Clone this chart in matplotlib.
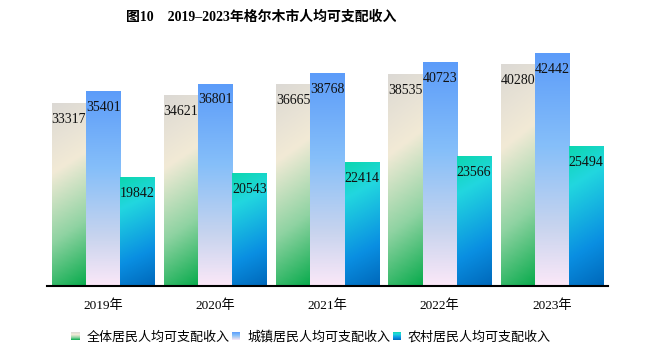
import numpy as np
import matplotlib.pyplot as plt
from matplotlib.colors import LinearSegmentedColormap
from matplotlib.legend_handler import HandlerBase
from matplotlib.patches import Rectangle

years = ["2019年", "2020年", "2021年", "2022年", "2023年"]
overall = [33317, 34621, 36665, 38535, 40280]
urban = [35401, 36801, 38768, 40723, 42442]
rural = [19842, 20543, 22414, 23566, 25494]
series_names = ["全体居民人均可支配收入", "城镇居民人均可支配收入", "农村居民人均可支配收入"]
title = "图10    2019–2023年格尔木市人均可支配收入"

# colour stops top -> bottom, and how much the gradient leans to the right
GRADIENTS = [
    ([(0, "#dcd9d4"), (0.34, "#f2ead6"), (0.68, "#8fd3a2"), (1, "#08ab4c")], 0.12),
    ([(0, "#5c9cfa"), (0.4, "#86bff9"), (0.75, "#c8d4ee"), (1, "#fbe8f8")], 0.0),
    ([(0, "#0cd6b0"), (0.25, "#22d7df"), (0.7, "#0a8fe2"), (1, "#0068ba")], 0.15),
]
CMAPS = [LinearSegmentedColormap.from_list(f"g{i}", stops) for i, (stops, _) in enumerate(GRADIENTS)]

SERIF = ["Liberation Serif", "Noto Sans CJK SC"]
SANS = ["Noto Sans CJK SC", "DejaVu Sans"]


def gradient_fill(ax, rect, cmap, tilt):
    x0, w, h = rect.get_x(), rect.get_width(), rect.get_height()
    v = np.linspace(0, 1, 200)[:, None]
    u = np.linspace(0, 1, 30)[None, :]
    t = (v + tilt * u) / (1 + tilt)
    ax.imshow(t, cmap=cmap, vmin=0, vmax=1, extent=(x0, x0 + w, 0, h),
              origin="upper", aspect="auto", interpolation="bilinear", zorder=2)


class GradientHandler(HandlerBase):
    def __init__(self, cmap, tilt):
        super().__init__()
        self.cmap, self.tilt = cmap, tilt

    def create_artists(self, legend, orig_handle, xdescent, ydescent, width, height,
                       fontsize, trans):
        n = 8
        arts = []
        for i in range(n):
            c = self.cmap((i + 0.5) / n)
            arts.append(Rectangle((-xdescent, -ydescent + height * (1 - (i + 1) / n)),
                                  width, height / n, facecolor=c, edgecolor="none",
                                  transform=trans))
        return arts


fig = plt.figure(figsize=(6.53, 3.59), dpi=100)
ax = fig.add_axes([0.072, 0.2033, 0.859, 0.688])

x = np.arange(len(years))
width = 0.305
handles = []
for i, vals in enumerate([overall, urban, rural]):
    bars = ax.bar(x + (i - 1) * width, vals, width, color="none", edgecolor="none")
    handles.append(bars)
    for rect, v in zip(bars, vals):
        gradient_fill(ax, rect, CMAPS[i], GRADIENTS[i][1])
        ax.annotate(f"{v}", (rect.get_x() + rect.get_width() / 2, v),
                    xytext=(0, -11.5), textcoords="offset points",
                    ha="center", va="center", fontsize=10, family=SERIF,
                    color="#111111", zorder=3)

ax.set_xlim(-0.5, len(years) - 0.5)
ax.set_ylim(0, 45000)
ax.set_xticks(x)
ax.set_xticklabels(years, family=SERIF, fontsize=9.5)
ax.tick_params(axis="x", length=0, pad=10)
ax.set_yticks([])
for s in ["top", "right", "left"]:
    ax.spines[s].set_visible(False)
ax.spines["bottom"].set_linewidth(1.5)
ax.spines["bottom"].set_color("black")
ax.spines["bottom"].set_zorder(4)

fig.text(261 / 653, 1 - 17 / 359, title, ha="center", va="center",
         fontsize=10, fontweight="bold", family=SERIF)

leg = fig.legend(handles, series_names, loc="center",
                 bbox_to_anchor=(311 / 653, 1 - 337 / 359), ncol=3, frameon=False,
                 prop={"family": SANS, "size": 9.4},
                 handlelength=0.65, handleheight=0.65, handletextpad=0.5,
                 columnspacing=0.2,
                 handler_map={h: GradientHandler(CMAPS[i], GRADIENTS[i][1])
                              for i, h in enumerate(handles)})

fig.savefig("out.png", dpi=100)
